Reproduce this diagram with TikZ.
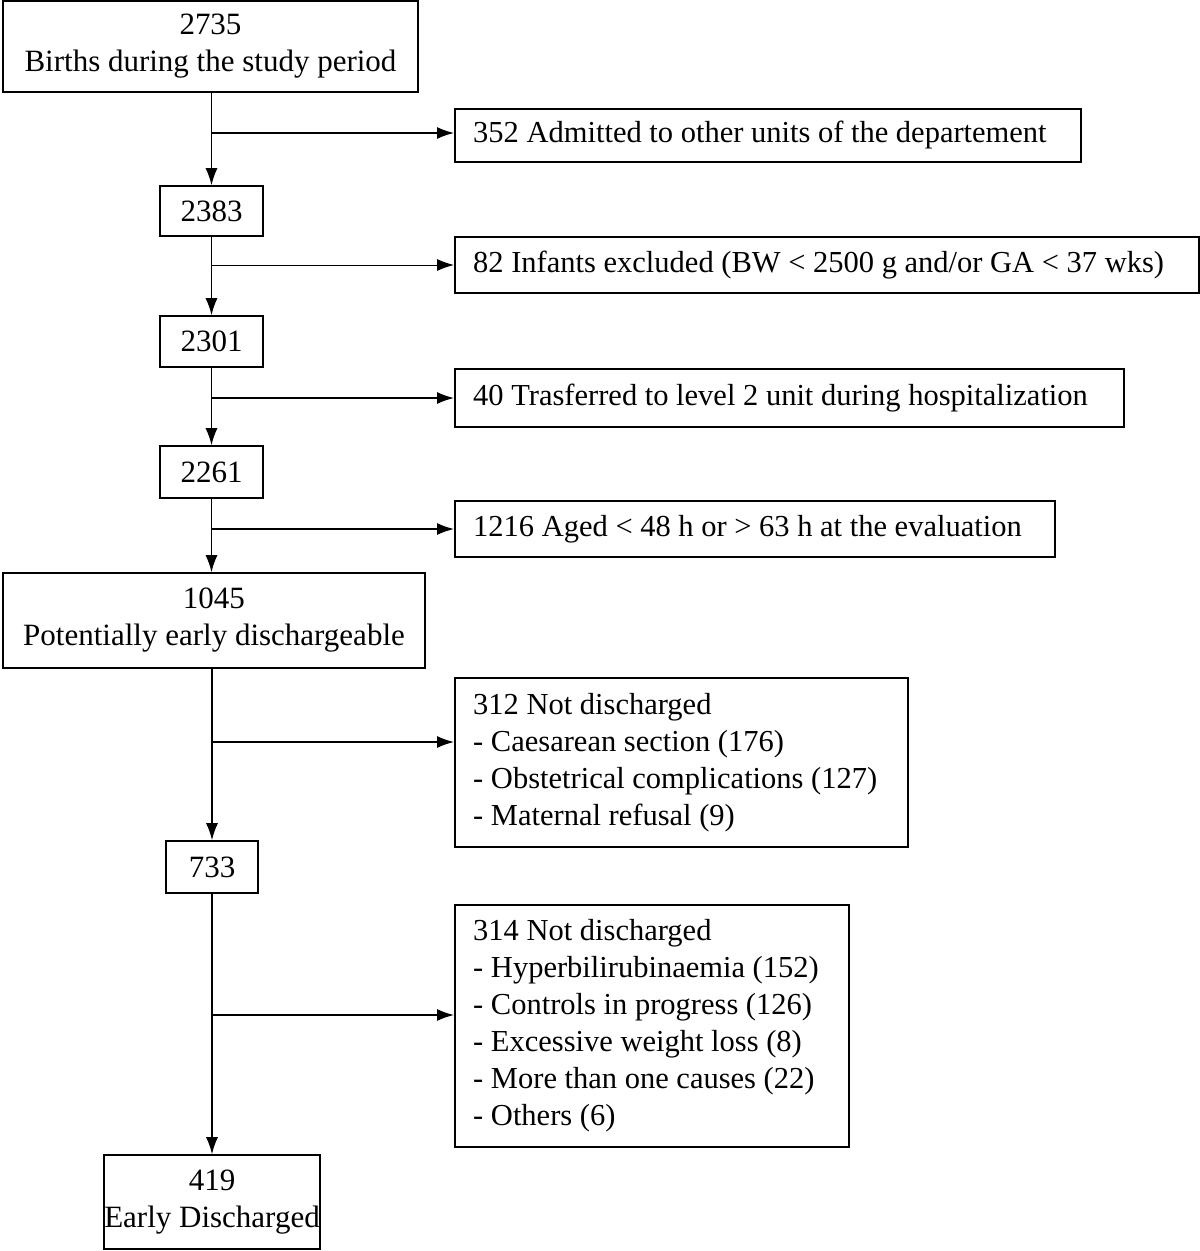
\documentclass[tikz,border=0pt]{standalone}
\usepackage{fontspec}
\setmainfont{Liberation Serif}
\usetikzlibrary{arrows.meta}
\begin{document}
\begin{tikzpicture}[x=1pt,y=-1pt,
  box/.style={draw,line width=1.6pt,inner sep=0pt,font=\fontsize{31}{37}\selectfont,align=center},
  frame/.style={draw,line width=1.6pt,inner sep=0pt,anchor=west},
  ltext/.style={inner sep=0pt,font=\fontsize{30.5}{37}\selectfont,align=left,anchor=west,xshift=19pt},
  arr/.style={line width=1.4pt,-{Latex[length=17pt,width=12pt]}}]
\useasboundingbox (0,0) rectangle (1200,1251);
\node[box,minimum width=415pt,minimum height=91pt] (A) at (210.5,46.5) {2735\\Births during the study period};
\node[box,minimum width=103pt,minimum height=50pt] (C) at (211.5,211) {2383};
\node[box,minimum width=103pt,minimum height=51pt] (E) at (211.5,341.5) {2301};
\node[box,minimum width=103pt,minimum height=52pt] (G) at (211.5,472) {2261};
\node[box,minimum width=422pt,minimum height=95pt] (I) at (214,620.5) {1045\\Potentially early dischargeable};
\node[box,minimum width=92pt,minimum height=52pt] (K) at (212,867) {733};
\node[box,minimum width=200pt,minimum height=94pt] (M) at (212,1202) {419\\Early Discharged};
\node[frame,minimum width=626pt,minimum height=53pt] (B) at (454,135.5) {};
\node[ltext] (Bt) at (B.west) {352 Admitted to other units of the departement};
\node[frame,minimum width=744pt,minimum height=56pt] (D) at (454,265) {};
\node[ltext] (Dt) at (D.west) {82 Infants excluded (BW < 2500 g and/or GA < 37 wks)};
\node[frame,minimum width=669pt,minimum height=58pt] (F) at (454,398) {};
\node[ltext] (Ft) at (F.west) {40 Trasferred to level 2 unit during hospitalization};
\node[frame,minimum width=600pt,minimum height=56pt] (H) at (454,529) {};
\node[ltext] (Ht) at (H.west) {1216 Aged < 48 h or > 63 h at the evaluation};
\node[frame,minimum width=453pt,minimum height=169pt] (J) at (454,762.5) {};
\node[ltext] (Jt) at (J.west) {312 Not discharged\\- Caesarean section (176)\\- Obstetrical complications (127)\\- Maternal refusal (9)};
\node[frame,minimum width=394pt,minimum height=242pt] (L) at (454,1026) {};
\node[ltext] (Lt) at (L.west) {314 Not discharged\\- Hyperbilirubinaemia (152)\\- Controls in progress (126)\\- Excessive weight loss (8)\\- More than one causes (22)\\- Others (6)};
\draw[arr] (A.south -| C) -- (C);
\draw[arr] (C) -- (E);
\draw[arr] (E) -- (G);
\draw[arr] (G.south) -- (G.south |- I.north);
\draw[arr] (I.south -| K) -- (K);
\draw[arr] (K) -- (M);
\coordinate (b1) at (211.5,133);
\coordinate (b2) at (211.5,265);
\coordinate (b3) at (211.5,398);
\coordinate (b4) at (211.5,529);
\coordinate (b5) at (212,742);
\coordinate (b6) at (212,1015);
\draw[arr] (b1) -- (b1 -| B.west);
\draw[arr,line width=1pt] (b2) -- (b2 -| D.west);
\draw[arr] (b3) -- (b3 -| F.west);
\draw[arr] (b4) -- (b4 -| H.west);
\draw[arr] (b5) -- (b5 -| J.west);
\draw[arr] (b6) -- (b6 -| L.west);
\end{tikzpicture}
\end{document}
